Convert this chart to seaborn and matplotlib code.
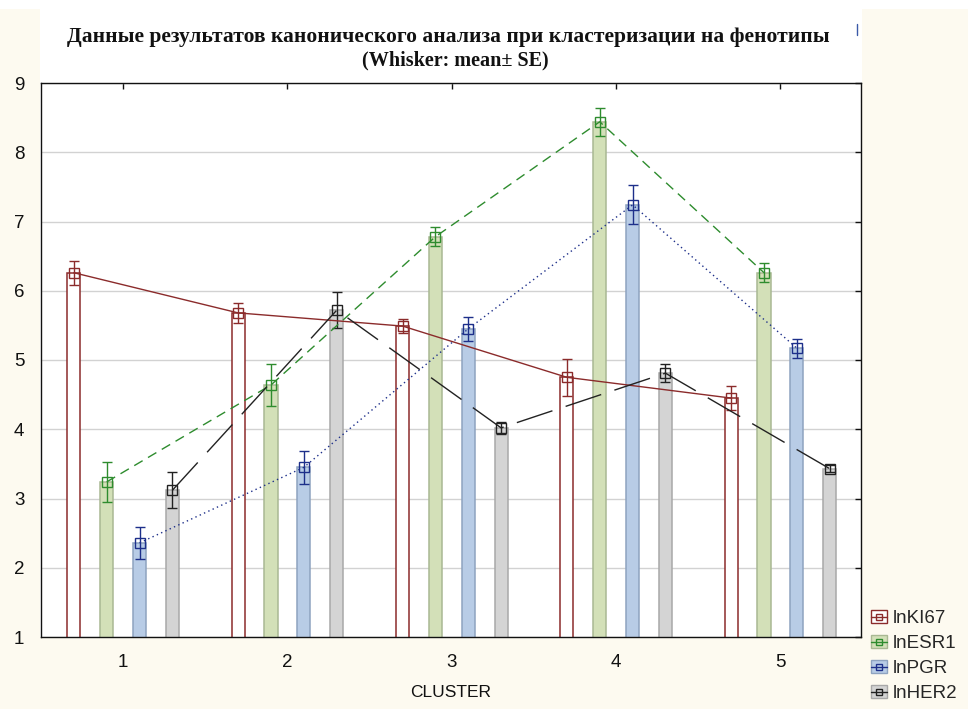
import numpy as np
import pandas as pd
import matplotlib
matplotlib.use("Agg")
import matplotlib.pyplot as plt
from matplotlib.lines import Line2D
from matplotlib.patches import Patch, Rectangle
from matplotlib.legend_handler import HandlerTuple
import seaborn as sns

# ---- data: cluster means and standard errors of log expression ----
clusters = [1, 2, 3, 4, 5]
genes = ["lnKI67", "lnESR1", "lnPGR", "lnHER2"]

ki67_mean = [6.26, 5.68, 5.49, 4.75, 4.45]
ki67_se = [0.17, 0.14, 0.10, 0.27, 0.17]
esr1_mean = [3.24, 4.64, 6.78, 8.44, 6.26]
esr1_se = [0.29, 0.30, 0.14, 0.20, 0.14]
pgr_mean = [2.36, 3.45, 5.45, 7.24, 5.17]
pgr_se = [0.23, 0.24, 0.17, 0.28, 0.14]
her2_mean = [3.12, 5.72, 4.02, 4.81, 3.43]
her2_se = [0.26, 0.26, 0.09, 0.13, 0.05]

y_ticks = [1, 2, 3, 4, 5, 6, 7, 8, 9]
title_line1 = "Данные результатов канонического анализа при кластеризации на фенотипы"
title_line2 = "(Whisker: mean\u00b1 SE)"
x_label = "CLUSTER"

means = {"lnKI67": ki67_mean, "lnESR1": esr1_mean, "lnPGR": pgr_mean, "lnHER2": her2_mean}
ses = {"lnKI67": ki67_se, "lnESR1": esr1_se, "lnPGR": pgr_se, "lnHER2": her2_se}

df = pd.DataFrame(
    [(c, g, means[g][i], ses[g][i]) for g in genes for i, c in enumerate(clusters)],
    columns=["cluster", "gene", "mean", "se"],
)

# ---- styles ----
line_color = {"lnKI67": "#8b2b2b", "lnESR1": "#2e8c2e", "lnPGR": "#1d2f8a", "lnHER2": "#222222"}
bar_face = {"lnKI67": "#ffffff", "lnESR1": "#d3e0b8", "lnPGR": "#b8cce6", "lnHER2": "#d4d4d4"}
bar_edge = {"lnKI67": "#8b2b2b", "lnESR1": "#a9b893", "lnPGR": "#8ea3c0", "lnHER2": "#a8a8a8"}
line_style = {
    "lnKI67": "-",
    "lnESR1": (0, (7, 4.5)),
    "lnPGR": (0, (1, 2.4)),
    "lnHER2": (0, (27, 10)),
}
cream = "#fdfaf0"

sns.set_theme(style="white")
plt.rcParams["font.family"] = ["Liberation Sans", "DejaVu Sans"]

W, H = 968, 709
fig = plt.figure(figsize=(W / 100, H / 100), dpi=100, facecolor=cream)

# white band behind the title and plotting area, plus a thin white strip on top
fig.patches.append(Rectangle((40 / W, 72 / H), 822 / W, (700 - 72) / H,
                             transform=fig.transFigure, facecolor="white",
                             edgecolor="none", zorder=-5))
fig.patches.append(Rectangle((0, 700 / H), 1, 9 / H, transform=fig.transFigure,
                             facecolor="white", edgecolor="none", zorder=-5))

ax = fig.add_axes([41 / W, 72 / H, 820 / W, 554 / H])
ax.set_facecolor("white")

sns.barplot(data=df, x="cluster", y="mean", hue="gene", hue_order=genes,
            palette=bar_face, native_scale=True, width=0.8, gap=0.6,
            errorbar=None, legend=False, ax=ax, zorder=2)

for container, g in zip(ax.containers, genes):
    xs = []
    for bar in container:
        bar.set_facecolor(bar_face[g])
        bar.set_edgecolor(bar_edge[g])
        bar.set_linewidth(1.1)
        xs.append(bar.get_x() + bar.get_width() / 2)
    ax.errorbar(xs, means[g], yerr=ses[g], fmt="none", ecolor=line_color[g],
                elinewidth=1.0, capsize=3.6, capthick=1.0, zorder=4)
    ax.plot(xs, means[g], color=line_color[g], linestyle=line_style[g], lw=1.0,
            marker="s", ms=7, mfc="none", mec=line_color[g], mew=1.0, zorder=5)

ax.set_xlim(0.5, 5.49)
ax.set_ylim(1, 9)
ax.set_yticks(y_ticks)
ax.set_xticks(clusters)
ax.set_xticklabels([str(c) for c in clusters])
ax.yaxis.grid(True, color="#d2d2d2", lw=1.0)
ax.xaxis.grid(False)
ax.set_axisbelow(True)

for s in ax.spines.values():
    s.set_visible(True)
    s.set_color("#111111")
    s.set_linewidth(1.0)

ax.tick_params(axis="both", direction="in", length=4, width=1, colors="#111111",
               labelsize=13.5, top=True, right=True, labeltop=False, labelright=False)
ax.tick_params(axis="x", pad=12)
ax.tick_params(axis="y", pad=12)
ax.set_xlabel(x_label, fontsize=12.5, color="#111111", labelpad=10)
ax.set_ylabel("")

fig.text(448 / W, 1 - 37 / H, title_line1, ha="center", va="center", fontsize=15.5,
         fontweight="bold", family=["Liberation Serif", "DejaVu Serif"], color="#111111")
fig.text(455 / W, 1 - 60 / H, title_line2, ha="center", va="center", fontsize=14.5,
         fontweight="bold", family=["Liberation Serif", "DejaVu Serif"], color="#111111")
fig.add_artist(Line2D([857 / W, 857 / W], [1 - 24 / H, 1 - 35 / H],
                      transform=fig.transFigure, color="#3a5aa8", lw=1.0))

handles = [
    (Patch(facecolor=bar_face[g], edgecolor=bar_edge[g], lw=1.0),
     Line2D([], [], color=line_color[g], lw=1.0, marker="s", ms=5,
            mfc="none", mec=line_color[g], mew=1.0))
    for g in genes
]
fig.legend(handles, genes, loc="upper left", bbox_to_anchor=(871 / W, 1 - 610 / H),
           bbox_transform=fig.transFigure, frameon=False, fontsize=13.5,
           handler_map={tuple: HandlerTuple(ndivide=1, pad=0)},
           handlelength=0.85, handleheight=0.65, handletextpad=0.3,
           labelspacing=0.43, borderpad=0, borderaxespad=0)

fig.savefig("out.png", dpi=100, facecolor=cream)
